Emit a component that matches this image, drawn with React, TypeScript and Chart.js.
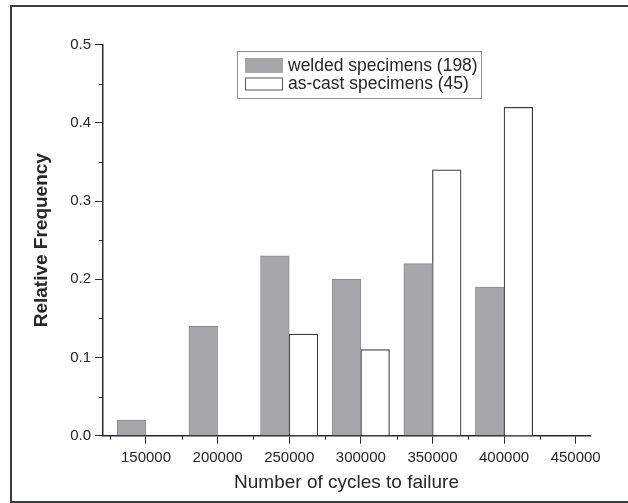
import { useEffect, useRef } from "react";
import { Chart, registerables } from "chart.js";

Chart.register(...registerables);

// Histogram bins (cycles to failure) and relative frequencies per specimen group
const CYCLE_BINS = [150000, 200000, 250000, 300000, 350000, 400000, 450000];
const WELDED = [0.02, 0.14, 0.23, 0.2, 0.22, 0.19, 0];
const AS_CAST = [0, 0, 0.13, 0.11, 0.34, 0.42, 0];
const SERIES_LABELS = ["welded specimens (198)", "as-cast specimens (45)"];

// Axis ticks: labelled majors plus unlabelled minors
const X_TICKS = [
  125000, 150000, 175000, 200000, 225000, 250000, 275000, 300000, 325000,
  350000, 375000, 400000, 425000, 450000,
];
const X_LABELLED = CYCLE_BINS;
const Y_TICKS = [0, 0.05, 0.1, 0.15, 0.2, 0.25, 0.3, 0.35, 0.4, 0.45, 0.5];
const Y_LABELLED = [0, 0.1, 0.2, 0.3, 0.4, 0.5];

// Each bar covers this many cycles; welded sits left of the bin value, as-cast right
const BAR_SPAN = 20000;

const FONT = "'Liberation Sans', Arial, Helvetica, sans-serif";
const INK = "#262626";
const AXIS = "#2b2b2b";
const WELDED_FILL = "#a7a7ab";
const WELDED_EDGE = "#8c8c90";
const CAST_EDGE = "#3c3c3c";

const isLabelledY = (v: number) => Y_LABELLED.some((t) => Math.abs(t - v) < 1e-6);
const isLabelledX = (v: number) => X_LABELLED.includes(v);

const minorTicks = {
  id: "minorTicks",
  afterDraw(chart: any) {
    const { ctx, chartArea } = chart;
    const xs = chart.scales.x;
    const ys = chart.scales.y;
    ctx.save();
    ctx.strokeStyle = AXIS;
    ctx.lineWidth = 1;
    ctx.beginPath();
    for (const v of X_TICKS) {
      if (isLabelledX(v)) continue;
      const px = Math.round(xs.getPixelForValue(v)) + 0.5;
      ctx.moveTo(px, chartArea.bottom);
      ctx.lineTo(px, chartArea.bottom + 4);
    }
    for (const v of Y_TICKS) {
      if (isLabelledY(v)) continue;
      const py = Math.round(ys.getPixelForValue(v)) + 0.5;
      ctx.moveTo(chartArea.left - 4, py);
      ctx.lineTo(chartArea.left, py);
    }
    ctx.stroke();
    ctx.restore();
  },
};

// Framed legend box inside the plot
const boxedLegend = {
  id: "boxedLegend",
  afterDraw(chart: any) {
    const { ctx } = chart;
    const ds = chart.data.datasets;
    const box = { x: 237.5, y: 51.5, w: 244, h: 47 };
    ctx.save();
    ctx.fillStyle = "#ffffff";
    ctx.fillRect(box.x, box.y, box.w, box.h);
    ctx.strokeStyle = "#8e8e8e";
    ctx.lineWidth = 1;
    ctx.strokeRect(box.x, box.y, box.w, box.h);
    ctx.font = `17.5px ${FONT}`;
    ctx.textBaseline = "middle";
    ctx.textAlign = "left";
    const rows = [
      { sy: 58, sh: 15, ty: 66.5 },
      { sy: 77.5, sh: 13, ty: 84.5 },
    ];
    ds.forEach((d: any, i: number) => {
      const r = rows[i];
      ctx.fillStyle = d.backgroundColor;
      ctx.fillRect(245, r.sy, 38, r.sh);
      if (i === 1) {
        ctx.strokeStyle = "#555555";
        ctx.strokeRect(245.5, r.sy + 0.5, 37, r.sh - 1);
      }
      ctx.fillStyle = INK;
      ctx.fillText(d.label, 288, r.ty);
    });
    ctx.restore();
  },
};

export default function App() {
  const canvasRef = useRef<HTMLCanvasElement | null>(null);

  useEffect(() => {
    const canvas = canvasRef.current;
    if (!canvas) return;

    const chart = new Chart(canvas, {
      type: "bar",
      data: {
        datasets: [
          {
            label: SERIES_LABELS[0],
            data: WELDED.map((y, i) => ({ x: CYCLE_BINS[i] - BAR_SPAN / 2, y })),
            backgroundColor: WELDED_FILL,
            borderColor: WELDED_EDGE,
            borderWidth: 1,
          },
          {
            label: SERIES_LABELS[1],
            data: AS_CAST.map((y, i) => ({ x: CYCLE_BINS[i] + BAR_SPAN / 2, y })),
            backgroundColor: "#ffffff",
            borderColor: CAST_EDGE,
            borderWidth: 1.2,
          },
        ],
      },
      options: {
        responsive: false,
        animation: false,
        devicePixelRatio: 1,
        grouped: false,
        barPercentage: 1,
        categoryPercentage: 1,
        layout: { padding: { left: 12, top: 44.7, right: 38, bottom: 8 } },
        plugins: {
          legend: { display: false },
          tooltip: { enabled: false },
        },
        scales: {
          x: {
            type: "linear",
            offset: false,
            min: 120000,
            max: 460000,
            afterBuildTicks: (scale: any) => {
              scale.ticks = X_TICKS.map((value) => ({ value }));
            },
            afterFit: (scale: any) => {
              scale.height = 59.3;
            },
            ticks: {
              autoSkip: false,
              maxRotation: 0,
              padding: 5,
              color: INK,
              font: { family: FONT, size: 15 },
              callback: (v: any) => (isLabelledX(Number(v)) ? String(v) : ""),
            },
            grid: {
              offset: false,
              drawOnChartArea: false,
              drawTicks: true,
              tickLength: 8,
              tickWidth: 1,
              tickColor: (c: any) =>
                c.tick && isLabelledX(c.tick.value) ? AXIS : "rgba(0,0,0,0)",
            },
            border: { display: true, color: AXIS, width: 1.5 },
            title: {
              display: true,
              text: "Number of cycles to failure",
              color: INK,
              font: { family: FONT, size: 19 },
              padding: { top: 0, bottom: 1 },
            },
          },
          y: {
            type: "linear",
            min: 0,
            max: 0.5,
            afterBuildTicks: (scale: any) => {
              scale.ticks = Y_TICKS.map((value) => ({ value }));
            },
            afterFit: (scale: any) => {
              scale.width = 91;
            },
            ticks: {
              padding: 4,
              color: INK,
              font: { family: FONT, size: 15 },
              callback: (v: any) => (isLabelledY(Number(v)) ? Number(v).toFixed(1) : ""),
            },
            grid: {
              drawOnChartArea: false,
              drawTicks: true,
              tickLength: 8,
              tickWidth: 1,
              tickColor: (c: any) =>
                c.tick && isLabelledY(c.tick.value) ? AXIS : "rgba(0,0,0,0)",
            },
            border: { display: true, color: AXIS, width: 1.5 },
            title: {
              display: true,
              text: "Relative Frequency",
              color: INK,
              font: { family: FONT, size: 19, weight: "bold" },
              padding: { top: 18, bottom: 0 },
            },
          },
        },
      } as any,
      plugins: [minorTicks, boxedLegend],
    });

    return () => chart.destroy();
  }, []);

  return (
    <div
      style={{
        position: "fixed",
        left: 0,
        top: 0,
        width: 628,
        height: 503,
        background: "#ffffff",
        overflow: "hidden",
      }}
    >
      <canvas ref={canvasRef} width={628} height={503} style={{ display: "block" }} />
      <div
        style={{
          position: "absolute",
          left: 10,
          top: 5,
          width: 640,
          height: 494,
          borderLeft: "2px solid #3a3e41",
          borderTop: "2px solid #3a3e41",
          borderBottom: "2px solid #3a3e41",
          pointerEvents: "none",
        }}
      />
    </div>
  );
}
